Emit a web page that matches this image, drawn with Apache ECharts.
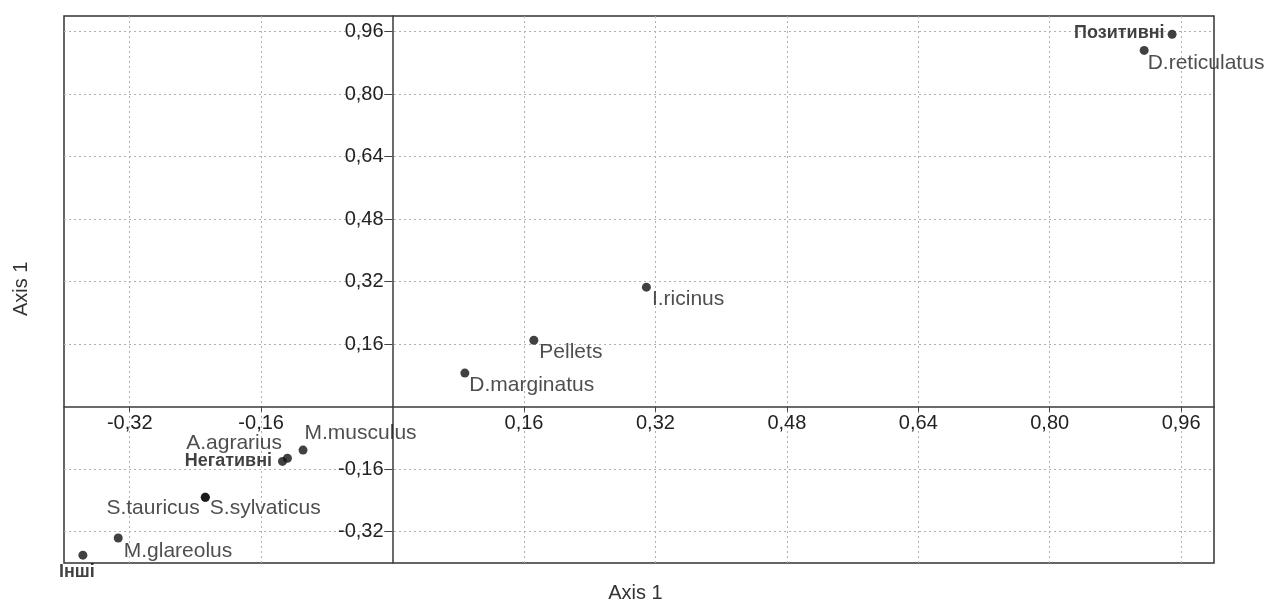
<!DOCTYPE html>
<html>
<head>
<meta charset="utf-8">
<script src="https://cdn.jsdelivr.net/npm/echarts@6/dist/echarts.min.js"></script>
<style>
  html, body { margin: 0; padding: 0; background: #fff; }
  #chart { width: 1271px; height: 607px; }
</style>
</head>
<body>
<div id="chart"></div>
<script>
// Ordination scores (Axis 1 on both axes)
const names = ['Позитивні', 'D.reticulatus', 'I.ricinus', 'Pellets', 'D.marginatus',
  'M.musculus', 'A.agrarius', 'Негативні', 'S.tauricus', 'S.sylvaticus', 'M.glareolus', 'Інші'];
const xScores = [0.949, 0.915, 0.309, 0.172, 0.088, -0.109, -0.128, -0.134, -0.228, -0.228, -0.334, -0.377];
const yScores = [0.953, 0.912, 0.306, 0.170, 0.086, -0.111, -0.132, -0.140, -0.232, -0.232, -0.336, -0.380];

// Labelled tick positions on both axes
const xTickValues = [-0.32, -0.16, 0.16, 0.32, 0.48, 0.64, 0.80, 0.96];
const yTickValues = [-0.32, -0.16, 0.16, 0.32, 0.48, 0.64, 0.80, 0.96];

const X_MIN = -0.4, X_MAX = 1.0, Y_MIN = -0.4, Y_MAX = 1.0;
const GRID = { left: 64, right: 57, top: 16, bottom: 44 };
const W = 1271, H = 607;

const FONT = "'Liberation Sans', Arial, sans-serif";

// Where each point's label sits relative to its marker
const labelPlacement = {
  'Позитивні':    { position: 'left',   offset: [-3, -1],  bold: true },
  'D.reticulatus':{ position: 'right',  offset: [-1, 13] },
  'I.ricinus':    { position: 'right',  offset: [1, 12] },
  'Pellets':      { position: 'right',  offset: [1, 12] },
  'D.marginatus': { position: 'right',  offset: [0, 12] },
  'M.musculus':   { position: 'right',  offset: [-3, -17] },
  'A.agrarius':   { position: 'left',   offset: [-1, -15] },
  'Негативні':    { position: 'left',   offset: [-6, 0],   bold: true },
  'S.tauricus':   { position: 'left',   offset: [-1, 11] },
  'S.sylvaticus': { position: 'right',  offset: [0, 11] },
  'M.glareolus':  { position: 'right',  offset: [1, 13] },
  'Інші':         { position: 'bottom', offset: [-6, 3],   bold: true }
};

const points = names.map((n, i) => {
  const p = labelPlacement[n];
  return {
    name: n,
    value: [xScores[i], yScores[i]],
    label: {
      show: true,
      formatter: n,
      position: p.position,
      distance: 0,
      offset: p.offset,
      fontFamily: FONT,
      fontSize: p.bold ? 18 : 21,
      fontWeight: p.bold ? 'bold' : 'normal',
      color: p.bold ? '#111' : '#222'
    }
  };
});

const fmt = v => (Math.round(v * 100) / 100).toFixed(2).replace('.', ',');

// Put the axes through the origin: shift each axis from the grid edge to zero
const plotW = W - GRID.left - GRID.right;
const plotH = H - GRID.top - GRID.bottom;
const xAxisShift = -plotH * (0 - Y_MIN) / (Y_MAX - Y_MIN);
const yAxisShift = -plotW * (0 - X_MIN) / (X_MAX - X_MIN);

const gridLine = { show: true, lineStyle: { color: '#b0b0b0', type: [2, 3], width: 1 } };

const chart = echarts.init(document.getElementById('chart'), null, { renderer: 'canvas' });
chart.setOption({
  backgroundColor: '#fff',
  animation: false,
  grid: {
    left: GRID.left, right: GRID.right, top: GRID.top, bottom: GRID.bottom,
    show: true, borderColor: '#333', borderWidth: 1.5, backgroundColor: 'transparent',
    outerBoundsMode: 'none'
  },
  xAxis: {
    type: 'value',
    min: X_MIN, max: X_MAX, interval: 0.1,
    position: 'bottom',
    offset: xAxisShift,
    axisLine: { show: true, onZero: false, lineStyle: { color: '#3a3a3a', width: 1.5 } },
    axisTick: { show: true, length: 5, customValues: xTickValues, lineStyle: { color: '#444' } },
    axisLabel: {
      show: true, customValues: xTickValues, formatter: fmt, margin: 7,
      fontFamily: FONT, fontSize: 20, color: '#222'
    },
    splitLine: gridLine
  },
  yAxis: {
    type: 'value',
    min: Y_MIN, max: Y_MAX, interval: 0.1,
    position: 'left',
    offset: yAxisShift,
    axisLine: { show: true, onZero: false, lineStyle: { color: '#3a3a3a', width: 1.5 } },
    axisTick: { show: true, length: 8, customValues: yTickValues, lineStyle: { color: '#444' } },
    axisLabel: {
      show: true, customValues: yTickValues, formatter: fmt, margin: 9,
      fontFamily: FONT, fontSize: 20, color: '#222'
    },
    splitLine: gridLine
  },
  graphic: [
    {
      type: 'text', left: 'center', top: 583,
      style: { text: 'Axis 1', fontFamily: FONT, fontSize: 20, fill: '#333' }
    },
    {
      type: 'text', x: 11, y: 316, rotation: Math.PI / 2,
      style: { text: 'Axis 1', fontFamily: FONT, fontSize: 20, fill: '#333' }
    }
  ],
  series: [{
    type: 'scatter',
    symbol: 'circle',
    symbolSize: 9,
    itemStyle: { color: '#111' },
    data: points
  }]
});
</script>
</body>
</html>
